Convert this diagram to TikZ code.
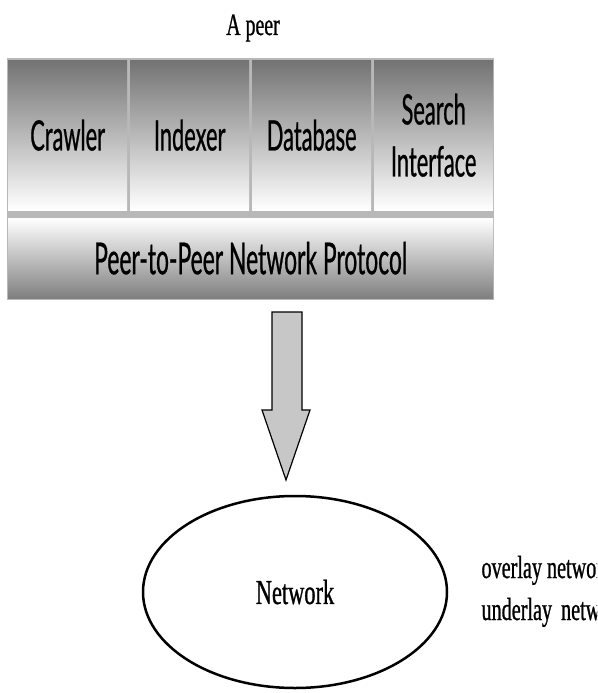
\documentclass[tikz,border=0pt]{standalone}
\usepackage{fontspec}
\usetikzlibrary{positioning,shapes.geometric}
\newfontfamily\gillfont[FakeStretch=0.52,FakeBold=0.6]{Lato}
\newfontfamily\timesfont[FakeStretch=0.64,FakeBold=0.8]{Liberation Serif}
\newfontfamily\notefont[FakeStretch=0.63,FakeBold=0.8]{Liberation Serif}

\begin{document}
\begin{tikzpicture}[x=1pt,y=-1pt,
	cell/.style={anchor=north west,inner sep=0pt,minimum width=119pt,minimum height=150pt,align=center,
		top color=black!55,bottom color=white,font=\gillfont\fontsize{42}{52}\selectfont}]
		\useasboundingbox (0,0) rectangle (597,693);
		\clip (0,0) rectangle (597,693);
		\node[anchor=base,font=\timesfont\fontsize{31}{34}\selectfont] (title) at (253,35) {A peer};
		\fill[black!28] (7,58) rectangle (494,300);
		\foreach \x/\n/\t in {8/crawler/Crawler,130/indexer/Indexer,252/database/Database,374/search/{Search\\Interface}}
		\node[cell] (\n) at (\x,60) {\t};
		\node[anchor=north west,inner sep=0pt,minimum width=485pt,minimum height=80pt,top color=white,bottom color=black!50,
			font=\gillfont\fontsize{44}{50}\selectfont] (protocol) at (8,218) {Peer-to-Peer Network Protocol};
		\draw[line width=1.2pt,fill=black!22] (272,312) -- (302,312) -- (302,410) -- (310,410) -- (286,480) -- (262,410) -- (272,410) -- cycle;
		\node[draw,ellipse,line width=2.5pt,inner sep=0pt,minimum width=304pt,minimum height=192pt,
			font=\timesfont\fontsize{35}{40}\selectfont] (net) at (295,592) {Network};
		\node[anchor=base west,font=\notefont\fontsize{32}{36}\selectfont] (overlay) at (478,578) {overlay network};
		\node[anchor=base west,font=\notefont\fontsize{32}{36}\selectfont] (underlay) at (478,620) {underlay\hspace{4pt} network};
		\end{tikzpicture}
\end{document}
